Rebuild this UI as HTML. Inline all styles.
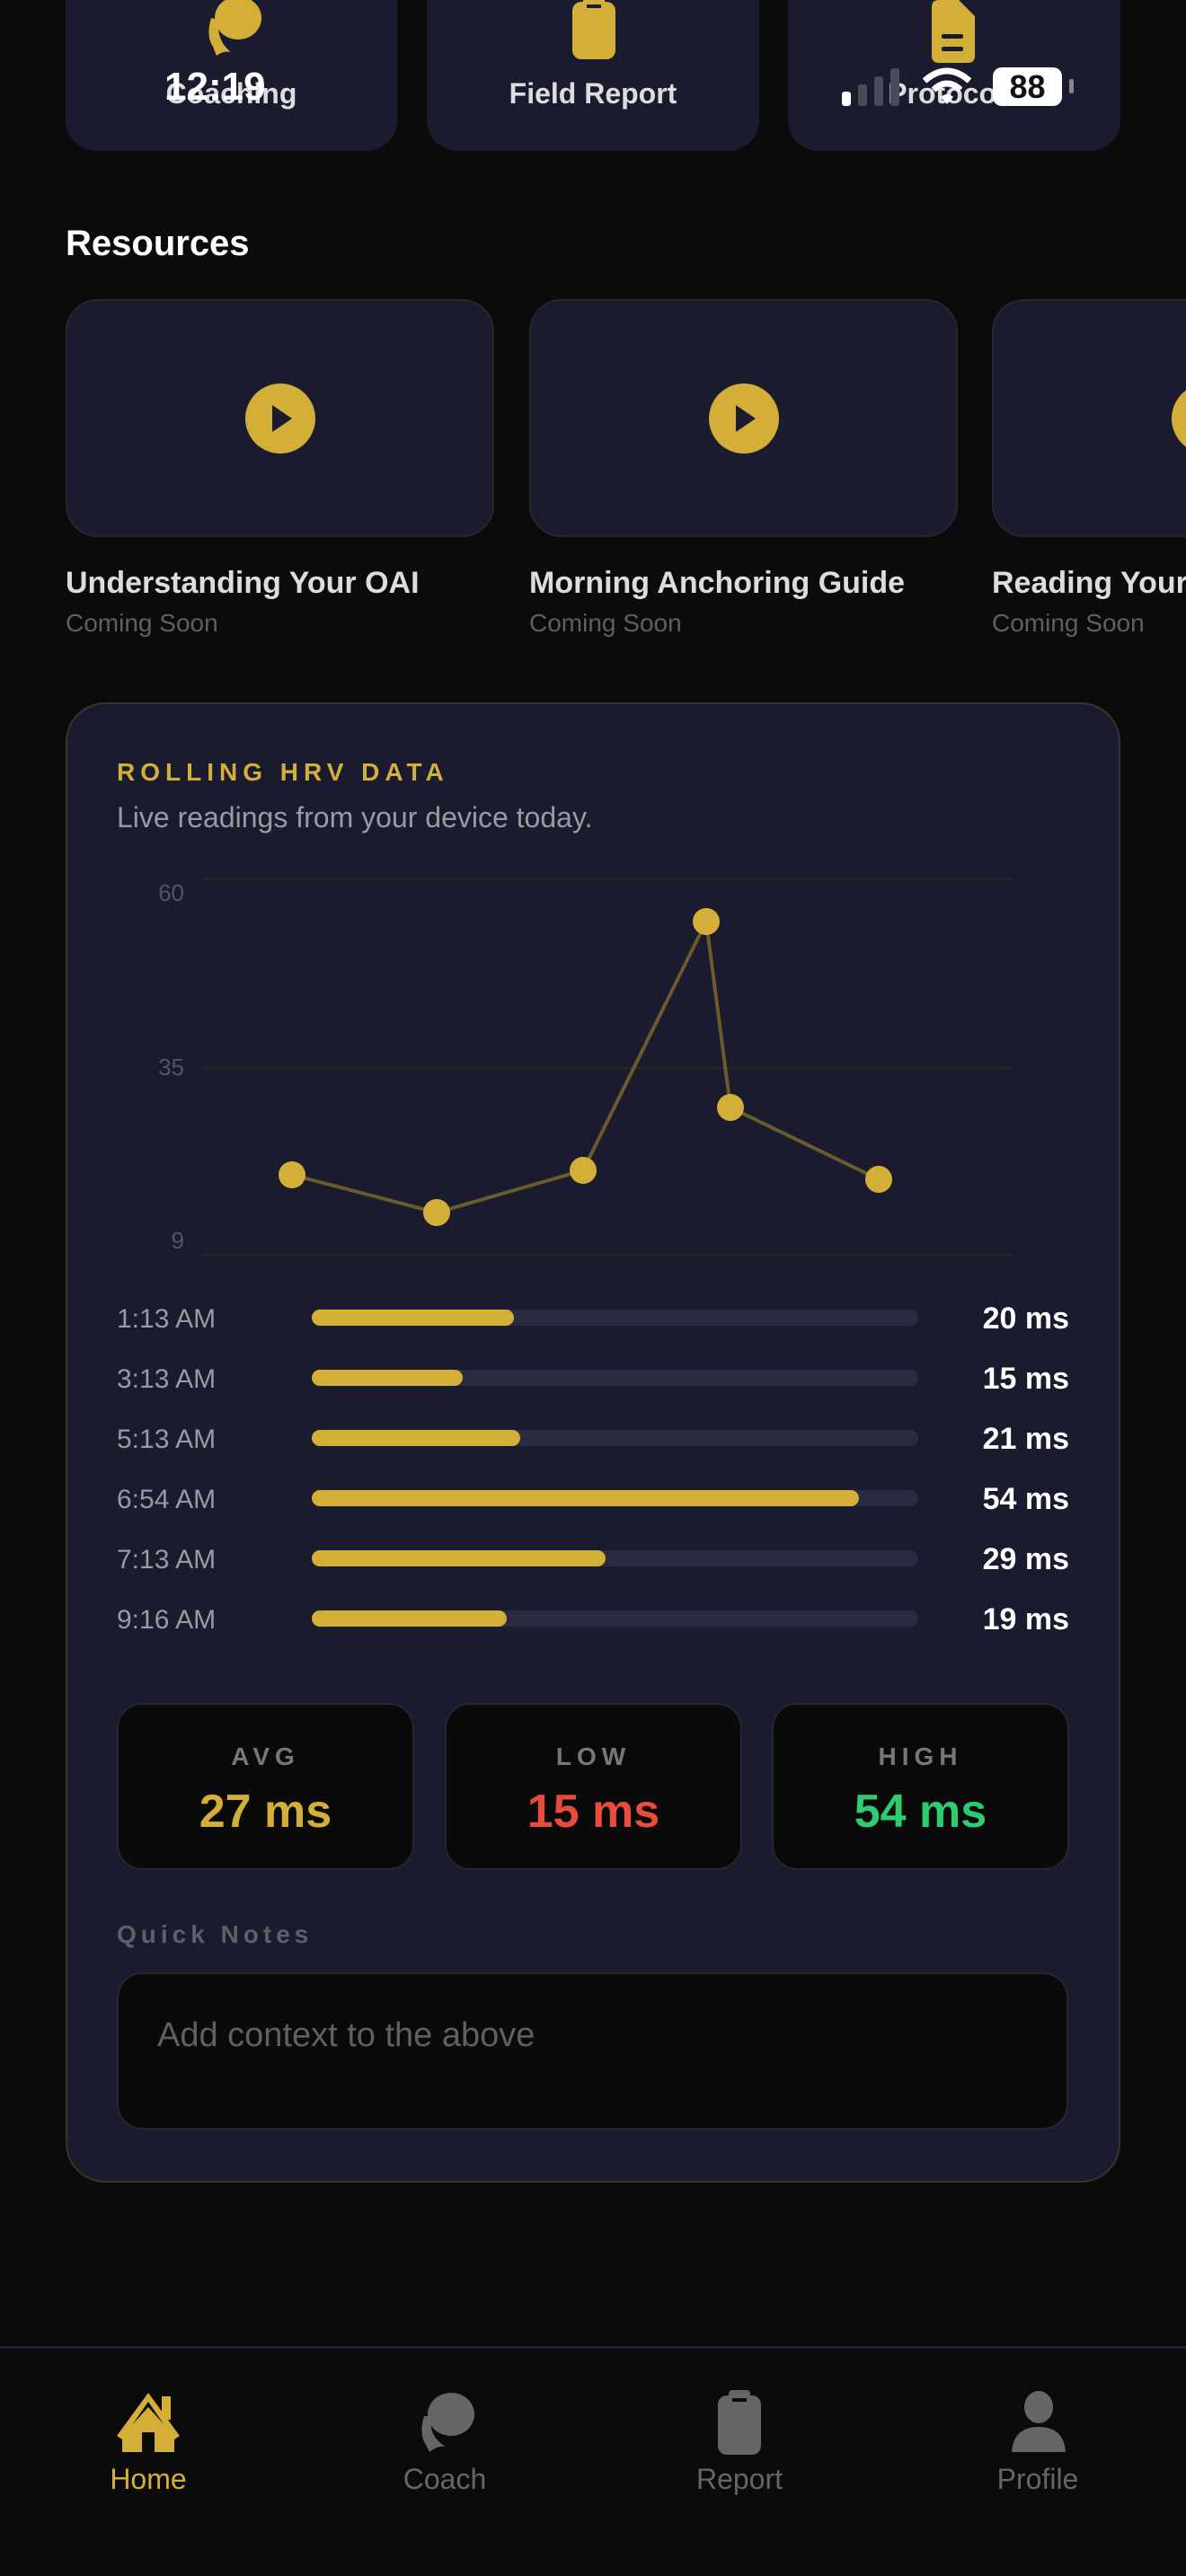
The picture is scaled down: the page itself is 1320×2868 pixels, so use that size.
<!DOCTYPE html>
<html><head><meta charset="utf-8"><style>
*{margin:0;padding:0;box-sizing:border-box}
html,body{width:1320px;height:2868px;overflow:hidden}
body{background:#0b0b0c;position:relative;font-family:"Liberation Sans",sans-serif}
#w{position:absolute;left:0;top:0;width:1320px;height:2868px;overflow:hidden}
.a{position:absolute}
.tc{position:absolute;top:-40px;height:208px;background:#1a1b2e;border-radius:34px}
.tl{position:absolute;left:0;right:0;top:126px;text-align:center;color:#ddd;font-size:32px;font-weight:bold}
.rc{position:absolute;top:333px;height:265px;width:477px;background:#1a1b2e;border:2px solid #26262e;border-radius:36px}
.play{position:absolute;left:198px;top:92px;width:78px;height:78px;border-radius:50%;background:#d4af37}
.play:after{content:"";position:absolute;left:30px;top:24px;border-left:22px solid #1a1b2e;border-top:15px solid transparent;border-bottom:15px solid transparent}
.rt{position:absolute;top:630px;color:#ddd;font-size:34px;font-weight:bold;white-space:nowrap}
.rs{position:absolute;top:678px;color:#5f5f66;font-size:28px;white-space:nowrap}
.row{position:absolute;left:130px;width:1060px;height:40px}
.row .l{position:absolute;left:0;top:6px;color:#9a9aa0;font-size:30px}
.row .t{position:absolute;left:217px;top:12px;width:675px;height:18px;border-radius:9px;background:#2a2b40}
.row .f{position:absolute;left:0;top:0;height:18px;border-radius:9px;background:#d4af37}
.row .v{position:absolute;right:0;top:3px;color:#fff;font-size:34px;font-weight:bold}
.sb{position:absolute;top:1896px;height:186px;width:331px;background:#0a0a0a;border:2px solid #26262e;border-radius:28px;text-align:center}
.sb .k{position:absolute;left:0;right:0;top:42px;color:#777;font-size:28px;font-weight:bold;letter-spacing:6px}
.sb .n{position:absolute;left:0;right:0;top:89px;font-size:52px;font-weight:bold}
.nv{position:absolute;top:2742px;width:200px;text-align:center;font-size:32px;color:#666}
</style></head><body><div id="w">
<div class="tc" style="left:73px;width:369px"><svg class="a" style="left:152px;top:40px" width="68" height="66" viewBox="0 0 68 66"><ellipse cx="40" cy="20" rx="26" ry="24" fill="#d4af37"/><path d="M10 20 Q4 40 12 52 L16 62 Q24 56 32 58 Q16 46 18 22 Z" fill="#d4af37"/></svg><div class="tl">Coaching</div></div>
<div class="tc" style="left:475px;width:370px"><svg class="a" style="left:160px;top:36px" width="52" height="72"><rect x="2" y="6" width="48" height="64" rx="10" fill="#d4af37"/><rect x="14" y="0" width="24" height="14" rx="4" fill="#d4af37"/><rect x="18" y="9" width="16" height="4" fill="#1a1b2e"/></svg><div class="tl">Field Report</div></div>
<div class="tc" style="left:877px;width:370px"><svg class="a" style="left:158px;top:40px" width="52" height="70"><path d="M2 8 Q2 0 10 0 L32 0 L50 18 L50 62 Q50 70 42 70 L10 70 Q2 70 2 62Z" fill="#d4af37"/><rect x="13" y="38" width="24" height="5" rx="2" fill="#1a1b2e"/><rect x="13" y="52" width="24" height="5" rx="2" fill="#1a1b2e"/></svg><div class="tl">Protocols</div></div>
<div class="a" style="left:183px;top:72px;color:#fff;font-size:44px;font-weight:bold">12:19</div>
<div class="a" style="left:937px;top:102px;width:10px;height:16px;background:#fff;border-radius:3px"></div>
<div class="a" style="left:955px;top:94px;width:10px;height:24px;background:#4a4a5a;border-radius:3px"></div>
<div class="a" style="left:973px;top:85px;width:10px;height:33px;background:#4a4a5a;border-radius:3px"></div>
<div class="a" style="left:991px;top:76px;width:10px;height:42px;background:#4a4a5a;border-radius:3px"></div>
<svg class="a" style="left:1025px;top:74px" width="58" height="44" viewBox="0 0 58 44"><path d="M4 16 Q29 -6 54 16" stroke="#fff" stroke-width="7" fill="none"/><path d="M14 26 Q29 12 44 26" stroke="#fff" stroke-width="7" fill="none"/><path d="M22 34 L29 42 L36 34 Q29 28 22 34Z" fill="#fff"/></svg>
<div class="a" style="left:1105px;top:75px;width:77px;height:43px;background:#fff;border-radius:10px;color:#111;font-size:36px;font-weight:bold;text-align:center;line-height:43px">88</div>
<div class="a" style="left:1190px;top:88px;width:5px;height:16px;background:#888;border-radius:2px"></div>
<div class="a" style="left:73px;top:249px;color:#fff;font-size:40px;font-weight:bold">Resources</div>
<div class="rc" style="left:73px"><div class="play"></div></div>
<div class="rc" style="left:589px"><div class="play"></div></div>
<div class="rc" style="left:1104px"><div class="play"></div></div>
<div class="rt" style="left:73px">Understanding Your OAI</div><div class="rs" style="left:73px">Coming Soon</div>
<div class="rt" style="left:589px">Morning Anchoring Guide</div><div class="rs" style="left:589px">Coming Soon</div>
<div class="rt" style="left:1104px">Reading Your HRV</div><div class="rs" style="left:1104px">Coming Soon</div>
<div class="a" style="left:73px;top:782px;width:1174px;height:1648px;background:#1a1b2e;border:2px solid #3a352c;border-radius:44px"></div>
<div class="a" style="left:130px;top:844px;color:#d4af37;font-size:28px;font-weight:bold;letter-spacing:6px">ROLLING HRV DATA</div>
<div class="a" style="left:130px;top:892px;color:#9a9aa0;font-size:32px">Live readings from your device today.</div>
<svg class="a" style="left:0;top:0" width="1320" height="1450">
<g stroke="#25251f" stroke-width="3"><line x1="226" y1="979" x2="1126" y2="979"/><line x1="226" y1="1189" x2="1126" y2="1189"/><line x1="226" y1="1397" x2="1126" y2="1397"/></g>
<g fill="#55555c" font-size="26" font-family="Liberation Sans" text-anchor="end"><text x="205" y="1003">60</text><text x="205" y="1197">35</text><text x="205" y="1390">9</text></g>
<polyline points="325,1308 486,1350 649,1303 786,1026 813,1233 978,1313" fill="none" stroke="#6b5a2e" stroke-width="4"/>
<g fill="#d4af37"><circle cx="325" cy="1308" r="15"/><circle cx="486" cy="1350" r="15"/><circle cx="649" cy="1303" r="15"/><circle cx="786" cy="1026" r="15"/><circle cx="813" cy="1233" r="15"/><circle cx="978" cy="1313" r="15"/></g>
</svg>
<div class="row" style="top:1446px"><div class="l">1:13 AM</div><div class="t"><div class="f" style="width:225px"></div></div><div class="v">20 ms</div></div>
<div class="row" style="top:1513px"><div class="l">3:13 AM</div><div class="t"><div class="f" style="width:168px"></div></div><div class="v">15 ms</div></div>
<div class="row" style="top:1580px"><div class="l">5:13 AM</div><div class="t"><div class="f" style="width:232px"></div></div><div class="v">21 ms</div></div>
<div class="row" style="top:1647px"><div class="l">6:54 AM</div><div class="t"><div class="f" style="width:609px"></div></div><div class="v">54 ms</div></div>
<div class="row" style="top:1714px"><div class="l">7:13 AM</div><div class="t"><div class="f" style="width:327px"></div></div><div class="v">29 ms</div></div>
<div class="row" style="top:1781px"><div class="l">9:16 AM</div><div class="t"><div class="f" style="width:217px"></div></div><div class="v">19 ms</div></div>
<div class="sb" style="left:130px"><div class="k">AVG</div><div class="n" style="color:#d4af37">27 ms</div></div>
<div class="sb" style="left:495px"><div class="k">LOW</div><div class="n" style="color:#e74c3c">15 ms</div></div>
<div class="sb" style="left:859px"><div class="k">HIGH</div><div class="n" style="color:#2ecc71">54 ms</div></div>
<div class="a" style="left:130px;top:2138px;color:#5f5f66;font-size:28px;font-weight:bold;letter-spacing:5px">Quick Notes</div>
<div class="a" style="left:130px;top:2196px;width:1059px;height:175px;background:#0a0a0a;border:2px solid #26262e;border-radius:28px"></div>
<div class="a" style="left:175px;top:2245px;color:#5f5f66;font-size:38px">Add context to the above</div>
<div class="a" style="left:0;top:2612px;width:1320px;height:3px;background:#1e2035"></div>
<svg class="a" style="left:128px;top:2662px" width="74" height="70"><path d="M37 2 L72 50 L66 54 L37 12 L8 54 L2 50 Z" fill="#d4af37"/><rect x="52" y="6" width="10" height="26" fill="#d4af37"/><path d="M8 50 L37 18 L66 50 L66 68 L44 68 L44 46 L30 46 L30 68 L8 68Z" fill="#d4af37"/></svg>
<svg class="a" style="left:462px;top:2662px" width="68" height="70"><ellipse cx="40" cy="26" rx="26" ry="24" fill="#666"/><path d="M10 28 Q4 48 12 60 L16 68 Q26 60 34 62 Q14 50 18 28Z" fill="#666"/></svg>
<svg class="a" style="left:797px;top:2661px" width="52" height="74"><rect x="2" y="6" width="48" height="66" rx="10" fill="#666"/><rect x="14" y="0" width="24" height="14" rx="4" fill="#666"/><rect x="18" y="9" width="16" height="4" fill="#0b0b0c"/></svg>
<svg class="a" style="left:1124px;top:2662px" width="64" height="70"><ellipse cx="32" cy="18" rx="16" ry="18" fill="#666"/><path d="M2 68 Q4 40 32 40 Q60 40 62 68Z" fill="#666"/></svg>
<div class="nv" style="left:65px;color:#d4af37">Home</div>
<div class="nv" style="left:395px">Coach</div>
<div class="nv" style="left:723px">Report</div>
<div class="nv" style="left:1055px">Profile</div>
</div></body></html>
